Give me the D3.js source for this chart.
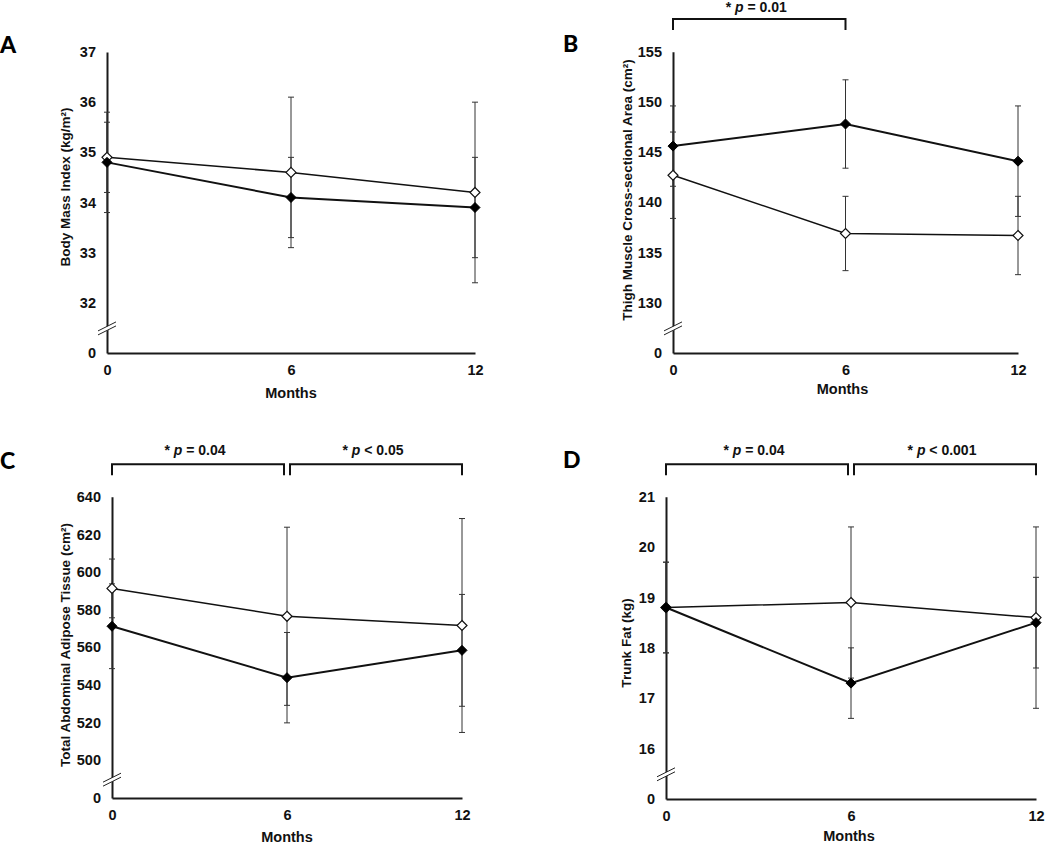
<!DOCTYPE html>
<html>
<head>
<meta charset="utf-8">
<script src="https://cdn.jsdelivr.net/npm/d3@7"></script>
<style>
  html, body { margin: 0; padding: 0; background: #fff; }
  svg { display: block; }
</style>
</head>
<body>
<svg id="chart" width="1050" height="845"></svg>
<script>
// ---------------- DATA ----------------
const months = [0, 6, 12];

const bmiOpen = [34.9, 34.6, 34.2];
const bmiOpenErr = [0.7, 1.5, 1.8];
const bmiFilled = [34.8, 34.1, 33.9];
const bmiFilledErr = [1.0, 0.8, 1.0];
const bmiTicks = [32, 33, 34, 35, 36, 37];

const thighOpen = [142.7, 136.9, 136.7];
const thighOpenErr = [4.3, 3.7, 3.9];
const thighFilled = [145.6, 147.8, 144.1];
const thighFilledErr = [4.0, 4.4, 5.5];
const thighTicks = [130, 135, 140, 145, 150, 155];

const tatOpen = [591.3, 576.5, 571.6];
const tatOpenErr = [15.6, 47.3, 56.8];
const tatFilled = [571.2, 543.9, 558.4];
const tatFilledErr = [22.5, 24.0, 29.7];
const tatTicks = [500, 520, 540, 560, 580, 600, 620, 640];

const trunkOpen = [18.8, 18.9, 18.6];
const trunkOpenErr = [0.9, 1.5, 1.8];
const trunkFilled = [18.8, 17.3, 18.5];
const trunkFilledErr = [0.9, 0.7, 0.9];
const trunkTicks = [16, 17, 18, 19, 20, 21];

const breakLabel = "0";

const annB = [{from: 0, to: 6, parts: ["* ", "p", " = 0.01"]}];
const annC = [{from: 0, to: 6, parts: ["* ", "p", " = 0.04"]}, {from: 6, to: 12, parts: ["* ", "p", " < 0.05"]}];
const annD = [{from: 0, to: 6, parts: ["* ", "p", " = 0.04"]}, {from: 6, to: 12, parts: ["* ", "p", " < 0.001"]}];

// ---------------- LAYOUT ----------------
const panels = [
  { letter: "A", lx: 0, ly: 53, x0: 107, x1: 475, yTop: 52, yBot: 353,
    title: "Body Mass Index (kg/m\u00B2)", tx: 65, ty: 187,
    open: bmiOpen, openErr: bmiOpenErr, filled: bmiFilled, filledErr: bmiFilledErr, ticks: bmiTicks,
    ann: [], annY: 0, annDy: 9.5, monthsDy: 45, monthsDx: 0 },
  { letter: "B", lx: 563, ly: 52, x0: 673, x1: 1018, yTop: 51.7, yBot: 353,
    title: "Thigh Muscle Cross-sectional Area (cm\u00B2)", tx: 627, ty: 190,
    open: thighOpen, openErr: thighOpenErr, filled: thighFilled, filledErr: thighFilledErr, ticks: thighTicks,
    ann: annB, annY: 19, annDy: 7.5, monthsDy: 41, monthsDx: -3 },
  { letter: "C", lx: 0, ly: 469, x0: 112, x1: 462, yTop: 496.7, yBot: 798,
    title: "Total Abdominal Adipose Tissue (cm\u00B2)", tx: 65, ty: 645,
    open: tatOpen, openErr: tatOpenErr, filled: tatFilled, filledErr: tatFilledErr, ticks: tatTicks,
    ann: annC, annY: 464.3, annDy: 9.5, monthsDy: 44, monthsDx: 0 },
  { letter: "D", lx: 563, ly: 468, x0: 666, x1: 1036, yTop: 496.7, yBot: 799,
    title: "Trunk Fat (kg)", tx: 626, ty: 643,
    open: trunkOpen, openErr: trunkOpenErr, filled: trunkFilled, filledErr: trunkFilledErr, ticks: trunkTicks,
    ann: annD, annY: 464.3, annDy: 9.5, monthsDy: 42, monthsDx: -2 }
];

const svg = d3.select("#chart");
const FONT = '"Liberation Sans", Arial, sans-serif';
const diamond = r => `M0,${-r}L${r},0L0,${r}L${-r},0Z`;

panels.forEach(p => {
  const g = svg.append("g");
  const step = p.ticks[1] - p.ticks[0];
  const breakVal = p.ticks[0] - step;
  const x = d3.scaleLinear().domain([0, 12]).range([p.x0, p.x1]);
  const y = d3.scaleLinear().domain([breakVal, p.ticks[p.ticks.length - 1]]).range([p.yBot, p.yTop]);

  // Panel letter
  g.append("text").attr("x", p.lx).attr("y", p.ly)
    .attr("font-family", "Lato, 'Open Sans', sans-serif").attr("font-weight", 900)
    .attr("font-size", 23).attr("fill", "#000").text(p.letter);

  // Y axis
  const yAxis = d3.axisLeft(y)
    .tickValues([breakVal].concat(p.ticks))
    .tickFormat(v => v === breakVal ? breakLabel : d3.format("d")(v))
    .tickSize(0).tickSizeOuter(0).tickPadding(11);
  const ya = g.append("g").attr("transform", `translate(${p.x0},0)`).call(yAxis);
  ya.attr("font-family", FONT).attr("font-size", 14.5).attr("font-weight", "bold");
  ya.selectAll(".tick text").attr("fill", "#111");
  ya.select(".domain").attr("stroke", "#1a1a1a").attr("stroke-width", 2);

  // X axis
  const xAxis = d3.axisBottom(x).tickValues(months).tickFormat(d3.format("d"))
    .tickSize(0).tickSizeOuter(0).tickPadding(12);
  const xa = g.append("g").attr("transform", `translate(0,${p.yBot})`).call(xAxis);
  xa.attr("font-family", FONT).attr("font-size", 14.5).attr("font-weight", "bold");
  xa.selectAll(".tick text").attr("fill", "#111");
  xa.select(".domain").attr("stroke", "#1a1a1a").attr("stroke-width", 2);

  // Axis break marks
  const by = y(breakVal + step / 2);
  const bg = g.append("g").attr("transform", `translate(${p.x0},${by})`);
  bg.append("path").attr("d", "M-9,3L9,-6L9,-2L-9,7Z").attr("fill", "#fff");
  bg.append("path").attr("d", "M-9,3L9,-6M-9,7L9,-2").attr("stroke", "#222").attr("stroke-width", 1);

  // Axis titles
  g.append("text")
    .attr("transform", `translate(${p.tx},${p.ty}) rotate(-90)`)
    .attr("text-anchor", "middle").attr("dominant-baseline", "central")
    .attr("font-family", FONT).attr("font-weight", "bold").attr("font-size", 13.5)
    .attr("fill", "#111").text(p.title);
  g.append("text")
    .attr("x", x(6) + p.monthsDx).attr("y", p.yBot + p.monthsDy)
    .attr("text-anchor", "middle")
    .attr("font-family", FONT).attr("font-weight", "bold").attr("font-size", 14.5)
    .attr("fill", "#111").text("Months");

  // Lines
  const line = d3.line().x((d, i) => x(months[i])).y(d => y(d));
  g.append("path").datum(p.open).attr("d", line).attr("fill", "none")
    .attr("stroke", "#111").attr("stroke-width", 1.5);
  g.append("path").datum(p.filled).attr("d", line).attr("fill", "none")
    .attr("stroke", "#111").attr("stroke-width", 2);

  // Error bars
  const drawErr = (vals, errs) => {
    vals.forEach((v, i) => {
      const cx = x(months[i]);
      const eg = g.append("g").attr("stroke", "#333").attr("stroke-width", 1);
      eg.append("line").attr("x1", cx).attr("x2", cx).attr("y1", y(v + errs[i])).attr("y2", y(v - errs[i]));
      [v + errs[i], v - errs[i]].forEach(e => {
        eg.append("line").attr("x1", cx - 3).attr("x2", cx + 3).attr("y1", y(e)).attr("y2", y(e));
      });
    });
  };
  drawErr(p.open, p.openErr);
  drawErr(p.filled, p.filledErr);

  // Markers
  g.selectAll(".mo").data(p.open).join("path")
    .attr("transform", (d, i) => `translate(${x(months[i])},${y(d)})`)
    .attr("d", diamond(5)).attr("fill", "#fff").attr("stroke", "#111").attr("stroke-width", 1.2);
  g.selectAll(".mf").data(p.filled).join("path")
    .attr("transform", (d, i) => `translate(${x(months[i])},${y(d)})`)
    .attr("d", diamond(5)).attr("fill", "#000").attr("stroke", "#000").attr("stroke-width", 1);

  // Significance brackets
  p.ann.forEach(a => {
    const xa0 = x(a.from) + (a.from === 6 ? 3 : 0);
    const xa1 = x(a.to) - (a.to === 6 && p.ann.length > 1 ? 3 : 0);
    g.append("path")
      .attr("d", `M${xa0},${p.annY + 11}V${p.annY}H${xa1}V${p.annY + 11}`)
      .attr("fill", "none").attr("stroke", "#111").attr("stroke-width", 2);
    const t = g.append("text")
      .attr("x", (xa0 + xa1) / 2 - 3).attr("y", p.annY - p.annDy)
      .attr("text-anchor", "middle")
      .attr("font-family", FONT).attr("font-weight", "bold").attr("font-size", 14).attr("fill", "#111");
    t.append("tspan").text(a.parts[0]);
    t.append("tspan").attr("font-style", "italic").text(a.parts[1]);
    t.append("tspan").text(a.parts[2]);
  });
});
</script>
</body>
</html>
